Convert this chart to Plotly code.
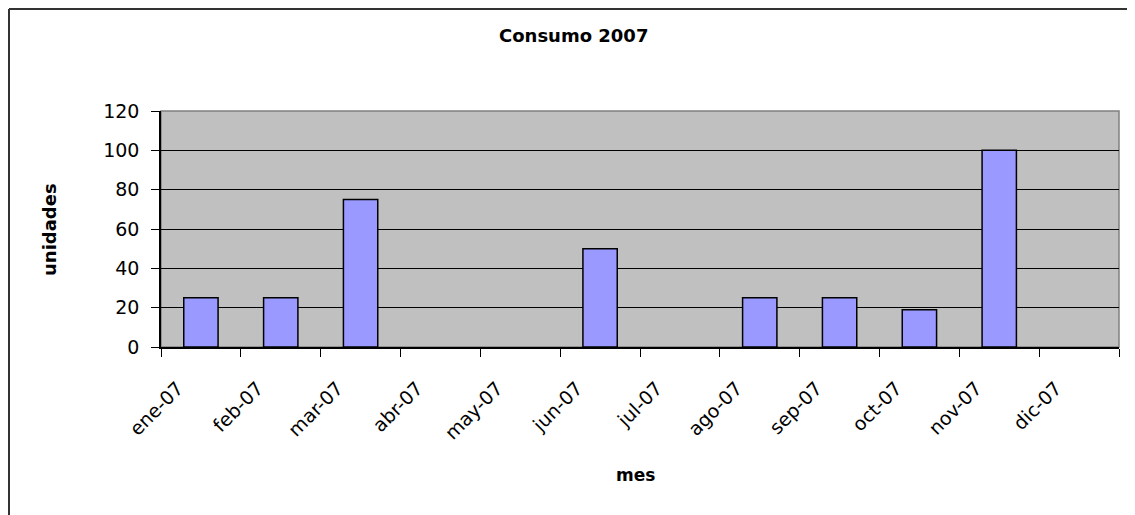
import plotly.graph_objects as go

# data
meses = ["ene-07", "feb-07", "mar-07", "abr-07", "may-07", "jun-07",
         "jul-07", "ago-07", "sep-07", "oct-07", "nov-07", "dic-07"]
unidades = [25, 25, 75, None, None, 50, None, 25, 25, 19, 100, None]
y_ticks = [0, 20, 40, 60, 80, 100, 120]

# the page body has an 8px margin, so the figure is 16px smaller than the window
W, H = 1127, 507
# plot area in figure pixels
L, R, T, B = 153, 1111, 103, 339

def px(x):
    return (x - L) / (R - L)

def py(y):
    return (B - y) / (B - T)

font_family = "DejaVu Sans, Arial, sans-serif"

fig = go.Figure()

fig.add_trace(go.Bar(
    x=meses, y=unidades,
    marker=dict(color="#9999FF", line=dict(color="black", width=1.5)),
    hoverinfo="x+y",
))

# plot area frame (gray) and the outer chart border (only top/left visible)
fig.add_shape(type="rect", xref="paper", yref="paper", x0=0, y0=0, x1=1, y1=1,
              line=dict(color="#808080", width=1.5), layer="below")
fig.add_shape(type="line", xref="paper", yref="paper",
              x0=px(1), y0=py(1), x1=px(W + 10), y1=py(1),
              line=dict(color="#333333", width=2))
fig.add_shape(type="line", xref="paper", yref="paper",
              x0=px(1), y0=py(1), x1=px(1), y1=py(H + 10),
              line=dict(color="#333333", width=2))

fig.add_annotation(text="<b>Consumo 2007</b>", xref="paper", yref="paper",
                   x=px(565), y=py(28), xanchor="center", yanchor="middle",
                   showarrow=False,
                   font=dict(size=18, color="black", family=font_family))
fig.add_annotation(text="<b>unidades</b>", xref="paper", yref="paper",
                   x=px(41), y=py(222), xanchor="center", yanchor="middle",
                   showarrow=False, textangle=-90,
                   font=dict(size=18, color="black", family=font_family))
fig.add_annotation(text="<b>mes</b>", xref="paper", yref="paper",
                   x=px(627), y=py(467), xanchor="center", yanchor="middle",
                   showarrow=False,
                   font=dict(size=17, color="black", family=font_family))

fig.update_layout(
    width=W, height=H,
    margin=dict(l=L, r=W - R, t=T, b=H - B),
    paper_bgcolor="white",
    plot_bgcolor="#C0C0C0",
    bargap=0.57,
    showlegend=False,
    font=dict(family=font_family, color="black"),
    xaxis=dict(
        type="category",
        tickson="boundaries",
        ticks="outside", ticklen=8, tickcolor="black", tickwidth=1,
        showline=True, linecolor="black", linewidth=1.5,
        showgrid=False,
        tickangle=-45,
        ticklabelstandoff=21,
        ticklabelshift=-23,
        tickfont=dict(size=19),
    ),
    yaxis=dict(
        range=[0, 120],
        tickvals=y_ticks,
        ticks="outside", ticklen=8, tickcolor="black", tickwidth=1,
        showline=True, linecolor="black", linewidth=1.5,
        showgrid=True, gridcolor="black", gridwidth=1,
        zeroline=False,
        ticklabelstandoff=8,
        tickfont=dict(size=19),
    ),
)

fig.write_html("out.html")
